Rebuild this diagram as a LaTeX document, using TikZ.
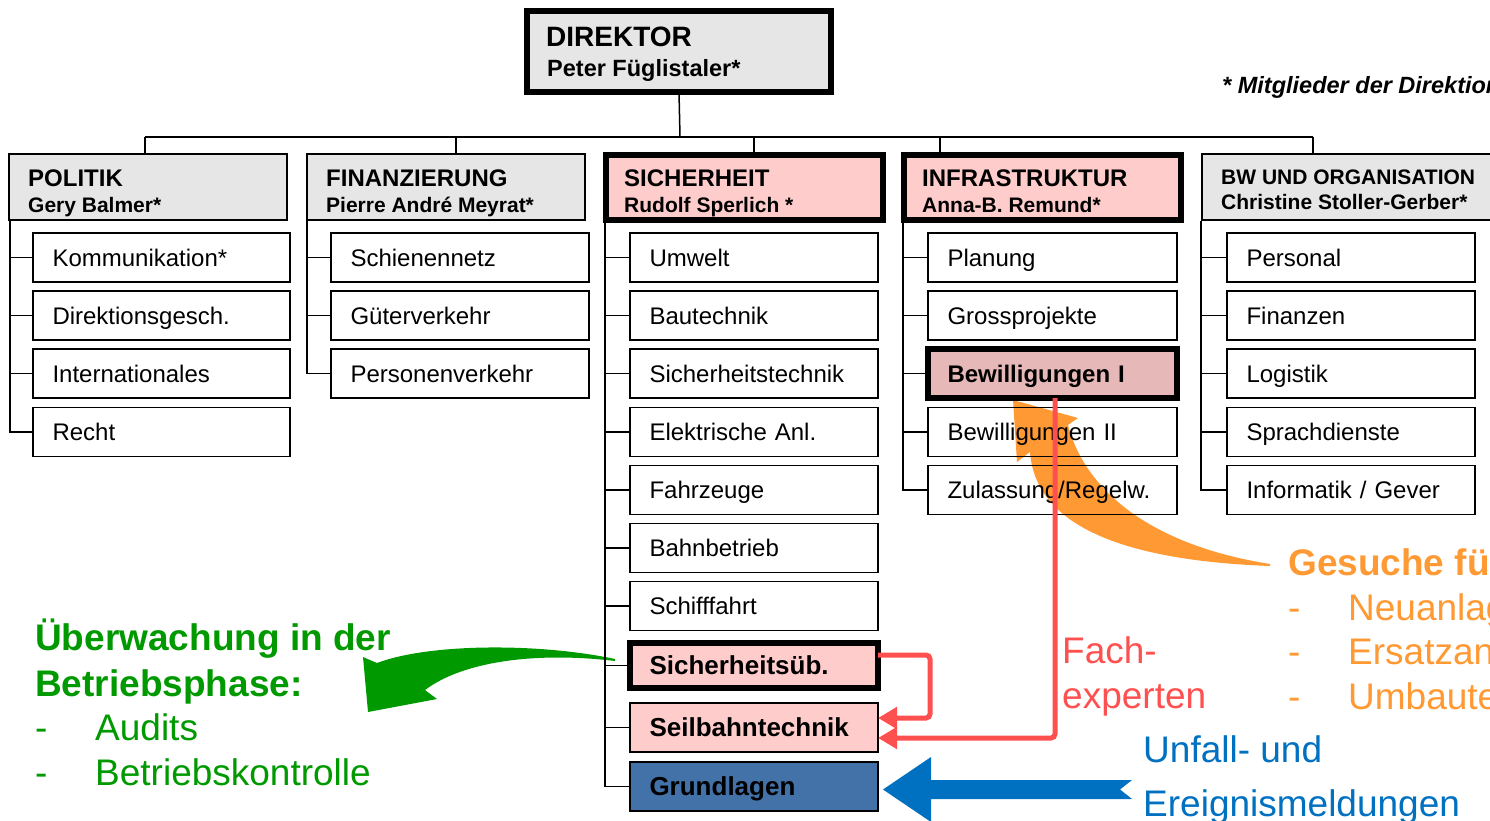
\documentclass[tikz,border=0pt]{standalone}
\usepackage{fontspec}
\setmainfont{Liberation Sans}
\usetikzlibrary{arrows.meta}
\definecolor{hdrgray}{RGB}{230,230,230}
\definecolor{pinkfill}{RGB}{255,204,204}
\definecolor{bewfill}{RGB}{230,184,183}
\definecolor{blufill}{RGB}{66,114,168}
\definecolor{grn}{RGB}{0,153,0}
\definecolor{org}{RGB}{255,153,51}
\definecolor{redc}{RGB}{255,80,80}
\definecolor{blu}{RGB}{0,112,192}
\newcommand{\fsz}[1]{\fontsize{#1}{#1}\selectfont}
\begin{document}
\begin{tikzpicture}[x=1pt,y=-1pt,
  hdr/.style={draw, line width=2, fill=hdrgray, inner sep=0, outer sep=0, minimum width=278, minimum height=66},
  hdrthick/.style={draw, line width=6, fill=pinkfill, inner sep=0, outer sep=0, minimum width=277, minimum height=65},
  item/.style={draw, line width=1.5, inner xsep=19.5, inner ysep=0, outer sep=0, minimum height=49, text height=17.2, text depth=0, align=left, font=\fsz{24}},
  bitem/.style={item, font=\fsz{26}\bfseries, text height=18.6},
  ttl/.style={anchor=base west, inner sep=0, font=\fsz{24}\bfseries},
  nme/.style={anchor=base west, inner sep=0, font=\fsz{21}\bfseries},
  big/.style={anchor=base west, inner sep=0, font=\fsz{37}},
  tree/.style={line width=1.5},
  redcon/.style={draw=redc, line width=5, rounded corners=4, -{Triangle[length=19, width=21]}}
]
\useasboundingbox (0,0) rectangle (1490,821);
\clip (0,0) rectangle (1490,821);

% orange curved arrow
\fill[org] (1270,566) .. controls (1110,560) and (1035,520) .. (1030,452)
  -- (1017,462) -- (1013,400) -- (1078,418) -- (1068,425)
  .. controls (1085,490) and (1150,545) .. (1270,564) -- cycle;
% green curved arrow
\fill[grn] (615,659) .. controls (540,643) and (430,643) .. (377,663)
  -- (363,657) -- (368,712) -- (437,699) -- (425,690)
  .. controls (465,660) and (540,652) .. (615,661) -- cycle;

% director
\node[draw, line width=6, fill=hdrgray, inner sep=0, outer sep=0, minimum width=304, minimum height=81] (dir) at (679,51.5) {};
\node[anchor=base west, inner sep=0, font=\fsz{28}\bfseries] (dirt) at (546,47) {DIREKTOR};
\node[anchor=base west, inner sep=0, font=\fsz{23.5}\bfseries] (dirn) at (547,76.5) {Peter Füglistaler*};
\node[anchor=base west, inner sep=0, font=\fsz{23.5}\bfseries\itshape] (note) at (1222,93.5) {* Mitglieder der Direktion};

% headers
\node[hdr] (pol) at (148,187) {};
\node[hdr] (fin) at (446,187) {};
\node[hdrthick] (sic) at (744.5,187.5) {};
\node[hdrthick] (inf) at (1042.5,187.5) {};
\node[hdr, minimum width=300] (bw) at (1352,187) {};

% bus
\coordinate (bus) at (680,137);
\coordinate (b1) at (145,137);
\coordinate (b2) at (456,137);
\coordinate (b3) at (754,137);
\coordinate (b4) at (940,137);
\coordinate (b5) at (1313,137);
\draw[tree] (dir.south) -- (bus);
\draw[tree] (b1) -- (b5);
\draw[tree] (b1) -- (b1 |- pol.north);
\draw[tree] (b2) -- (b2 |- fin.north);
\draw[tree] (b3) -- (b3 |- sic.north);
\draw[tree] (b4) -- (b4 |- inf.north);
\draw[tree] (b5) -- (b5 |- bw.north);

% header texts
\node[ttl] (polt) at (28,186.6) {POLITIK};
\node[nme] (poln) at (28,212.5) {Gery Balmer*};
\node[ttl] (fint) at (326,186.6) {FINANZIERUNG};
\node[nme] (finn) at (326,212.5) {Pierre André Meyrat*};
\node[ttl] (sict) at (624,186.6) {SICHERHEIT};
\node[nme] (sicn) at (624,212.5) {Rudolf Sperlich *};
\node[ttl] (inft) at (922,186.6) {INFRASTRUKTUR};
\node[nme] (infn) at (922,212.5) {Anna-B. Remund*};
\node[ttl, font=\fsz{21}\bfseries] (bwt) at (1221,184.5) {BW UND ORGANISATION};
\node[nme] (bwn) at (1221,209.5) {Christine Stoller-Gerber*};

% column 1
\node[item, text width=218] (p1) at (161.5,257.5) {Kommunikation*};
\node[item, text width=218] (p2) at (161.5,315.5) {Direktionsgesch.};
\node[item, text width=218] (p3) at (161.5,373.5) {Internationales};
\node[item, text width=218] (p4) at (161.5,432) {Recht};
\coordinate (t1) at (10,221);
\draw[tree] (t1) |- (p4.west);
\foreach \n in {p1,p2,p3} \draw[tree] (\n.west -| t1) -- (\n.west);

% column 2
\node[item, text width=219] (f1) at (460,257.5) {Schienennetz};
\node[item, text width=219] (f2) at (460,315.5) {Güterverkehr};
\node[item, text width=219] (f3) at (460,373.5) {Personenverkehr};
\coordinate (t2) at (307,221);
\draw[tree] (t2) |- (f3.west);
\foreach \n in {f1,f2} \draw[tree] (\n.west -| t2) -- (\n.west);

% column 3
\node[item, text width=209] (s1) at (754,257.5) {Umwelt};
\node[item, text width=209] (s2) at (754,315.5) {Bautechnik};
\node[item, text width=209] (s3) at (754,373.5) {Sicherheitstechnik};
\node[item, text width=209] (s4) at (754,432) {Elektrische Anl.};
\node[item, text width=209] (s5) at (754,490) {Fahrzeuge};
\node[item, text width=209] (s6) at (754,548) {Bahnbetrieb};
\node[item, text width=209] (s7) at (754,606) {Schifffahrt};
\node[bitem, text width=209, line width=6, fill=pinkfill, minimum height=45] (sue) at (754,665.5) {Sicherheitsüb.};
\node[bitem, text width=209, fill=pinkfill] (sei) at (754,727.5) {Seilbahntechnik};
\node[bitem, text width=209, fill=blufill] (gru) at (754,786.5) {Grundlagen};
\coordinate (t3) at (605,223);
\draw[tree] (t3) |- (gru.west);
\foreach \n in {s1,s2,s3,s4,s5,s6,s7,sue,sei} \draw[tree] (\n.west -| t3) -- (\n.west);

% column 4
\node[item, text width=210] (i1) at (1052.5,257.5) {Planung};
\node[item, text width=210] (i2) at (1052.5,315.5) {Grossprojekte};
\node[item, text width=210, font=\fsz{24}\bfseries, line width=6, fill=bewfill] (bew1) at (1052.5,373.5) {Bewilligungen I};
\node[item, text width=210] (i4) at (1052.5,432) {Bewilligungen II};
\node[item, text width=210] (i5) at (1052.5,490) {Zulassung/Regelw.};
\coordinate (t4) at (903,223);
\draw[tree] (t4) |- (i5.west);
\foreach \n in {i1,i2,bew1,i4} \draw[tree] (\n.west -| t4) -- (\n.west);

% column 5
\node[item, text width=209] (o1) at (1351,257.5) {Personal};
\node[item, text width=209] (o2) at (1351,315.5) {Finanzen};
\node[item, text width=209] (o3) at (1351,373.5) {Logistik};
\node[item, text width=209] (o4) at (1351,432) {Sprachdienste};
\node[item, text width=209] (o5) at (1351,490) {Informatik / Gever};
\coordinate (t5) at (1201,221);
\draw[tree] (t5) |- (o5.west);
\foreach \n in {o1,o2,o3,o4} \draw[tree] (\n.west -| t5) -- (\n.west);

% red connectors
\coordinate (rc1) at (930,718);
\draw[redcon] ([yshift=10.5]sue.east) -| (rc1) -- ([yshift=9.5]sei.east);
\draw[redcon] ([xshift=2.5]bew1.south) |- ([yshift=-10.5]sei.east);

% blue arrow
\fill[blu] (883,789.5) -- (931,757) -- (931,780) -- (1132,780) -- (1120,789.5)
  -- (1132,799) -- (931,799) -- (931,822) -- cycle;

% green text
\node[big, font=\fsz{37}\bfseries, text=grn] (g1) at (35,650) {Überwachung in der};
\node[big, font=\fsz{37}\bfseries, text=grn] (g2) at (35,696) {Betriebsphase:};
\node[big, text=grn] (g3) at (35,740) {\makebox[60pt][l]{-}Audits};
\node[big, text=grn] (g4) at (35,785) {\makebox[60pt][l]{-}Betriebskontrolle};

% orange text
\node[big, font=\fsz{37}\bfseries, text=org] (o_t) at (1288,575) {Gesuche für};
\node[big, text=org] (o_a) at (1288,620) {\makebox[60pt][l]{-}Neuanlagen};
\node[big, text=org] (o_b) at (1288,664) {\makebox[60pt][l]{-}Ersatzanlagen};
\node[big, text=org] (o_c) at (1288,709) {\makebox[60pt][l]{-}Umbauten};

% red text
\node[big, text=redc] (r1) at (1062,663) {Fach-};
\node[big, text=redc] (r2) at (1062,708) {experten};

% blue text
\node[big, text=blu] (u1) at (1143,762) {Unfall- und};
\node[big, text=blu] (u2) at (1143,816) {Ereignismeldungen};
\end{tikzpicture}
\end{document}
